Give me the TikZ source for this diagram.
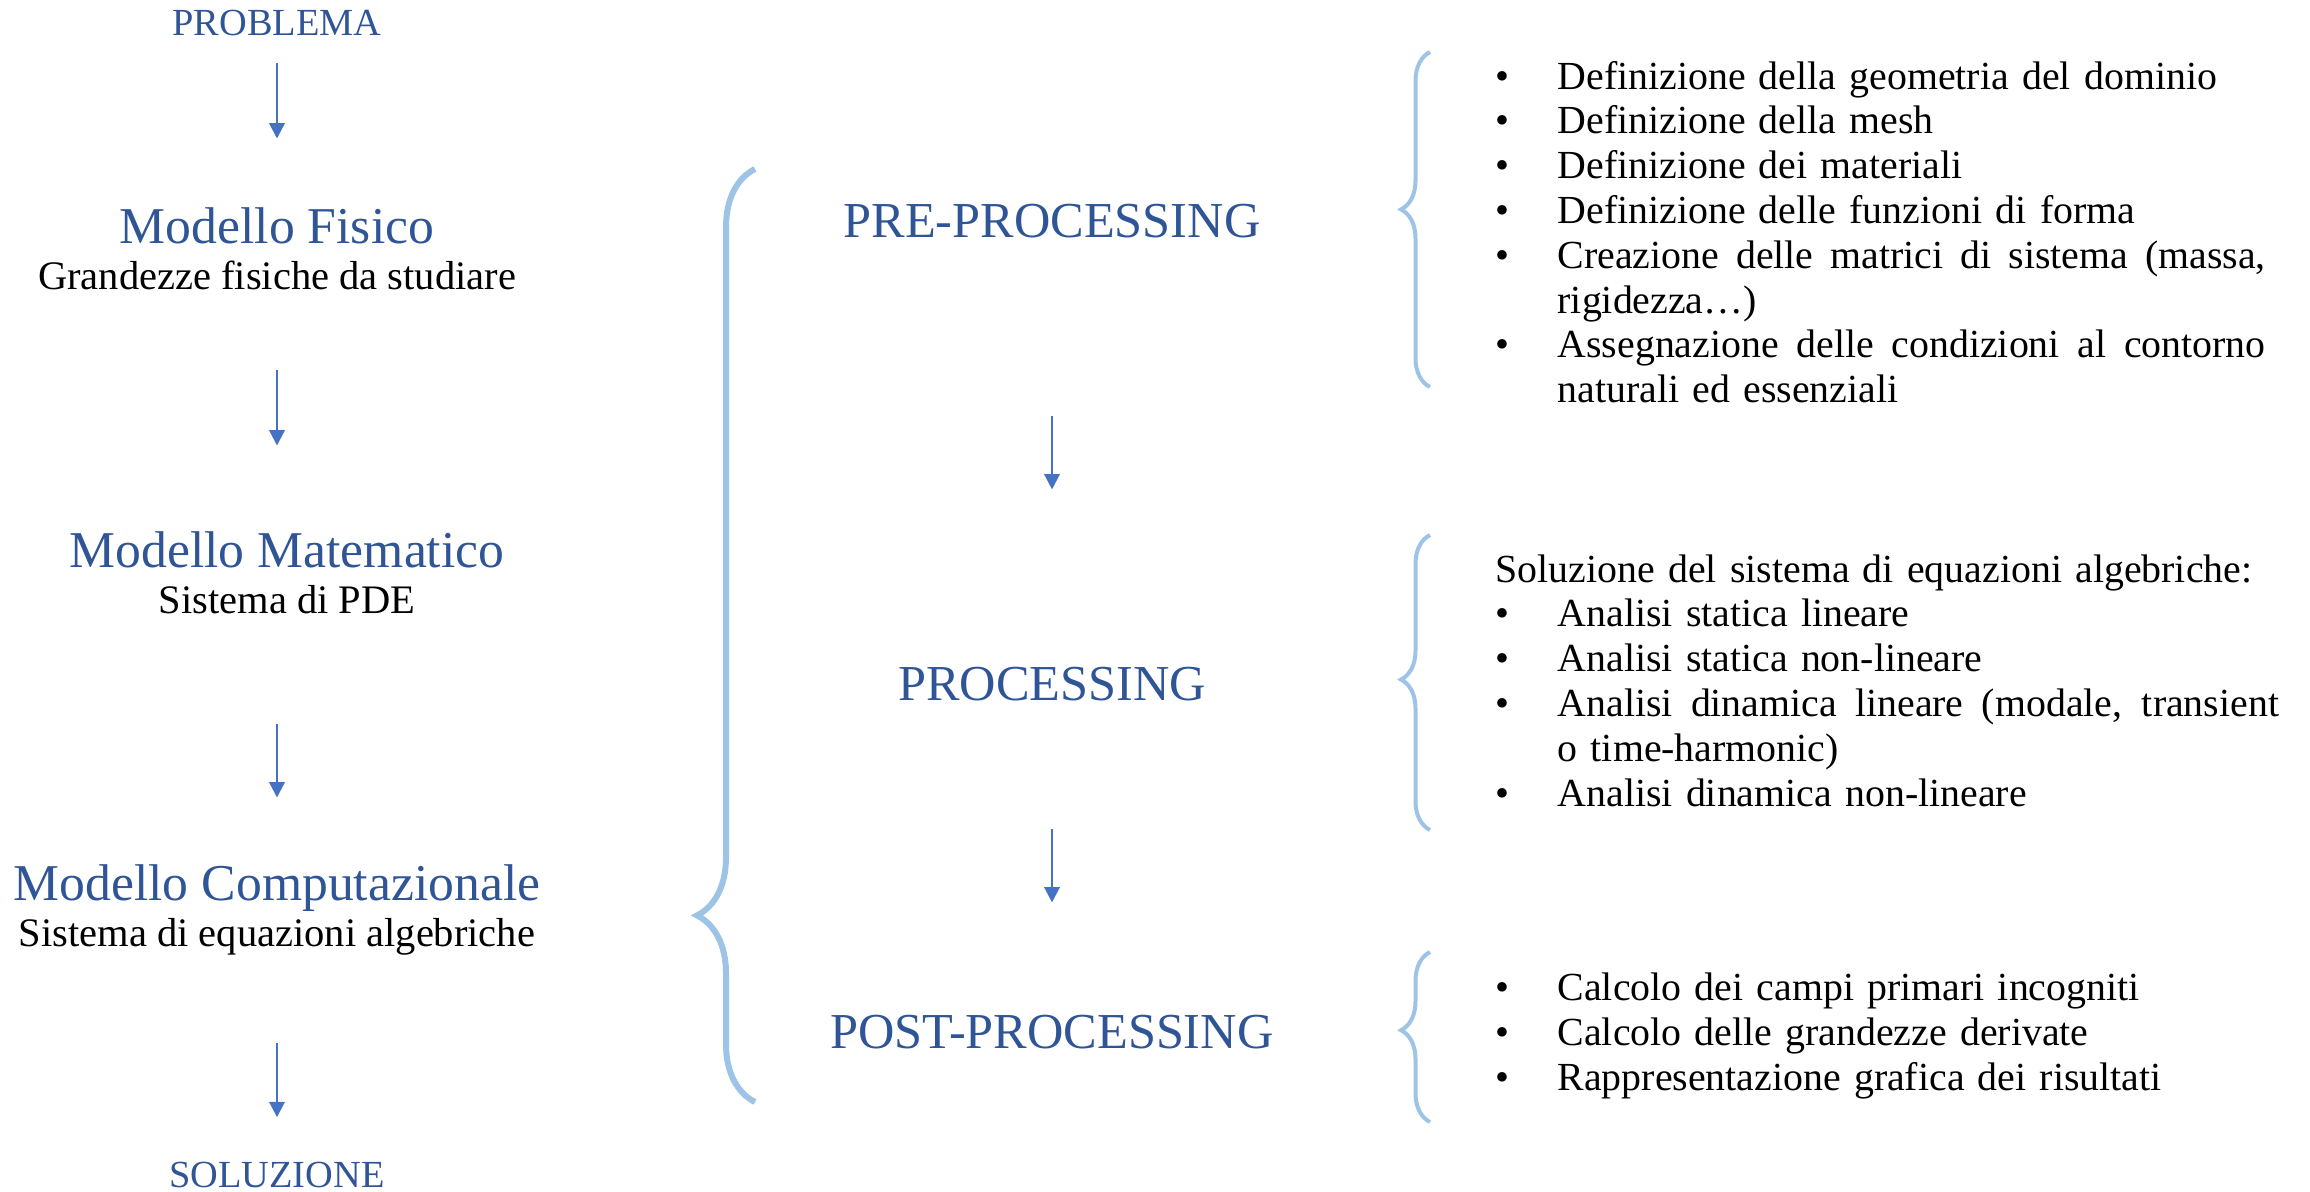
\documentclass[tikz,border=0pt]{standalone}
\usepackage{fontspec}
\setmainfont{Liberation Serif}
\usepackage{tikz}
\usetikzlibrary{arrows.meta, decorations.pathreplacing, positioning}
\definecolor{titleblue}{HTML}{2F5597}
\definecolor{arrowblue}{HTML}{4472C4}
\definecolor{braceblue}{HTML}{9DC3E6}
\tikzstyle{estremo} = [inner sep=0pt, text=titleblue, font=\fontsize{11.5}{13}\selectfont, text height=8.05pt, text depth=2.3pt]
\tikzstyle{modello} = [inner sep=0pt, text=titleblue, font=\fontsize{15.5}{18}\selectfont, text height=10.85pt, text depth=3.1pt]
\tikzstyle{fase} = [inner sep=0pt, text=titleblue, font=\fontsize{15.1}{18}\selectfont, text height=10.57pt, text depth=3.02pt]
\tikzstyle{descr} = [inner sep=0pt, font=\fontsize{12.15}{13.44}\selectfont, text height=8.5pt, text depth=3.04pt]
\tikzstyle{elenco} = [inner sep=0pt, anchor=base west, align=justify, font=\fontsize{11.95}{13.44}\selectfont]
\tikzstyle{arrow} = [draw=arrowblue, line width=0.7pt, -{Triangle[length=4.6pt,width=4.6pt]}]
\tikzstyle{graffa} = [draw=braceblue, line width=1.8pt, decorate, decoration={brace, amplitude=17.4pt, aspect=0.2}]
\tikzstyle{graffina} = [draw=braceblue, line width=1.2pt, decorate, decoration={brace, amplitude=8.7pt}]
\newcommand{\spaziatura}{\spaceskip=.3333em plus .1667em minus .1111em\relax}
\newenvironment{puntielenco}{\spaziatura\begin{list}{\textbullet}{\setlength{\leftmargin}{18.6pt}\setlength{\labelwidth}{18.6pt}\setlength{\labelsep}{0pt}\setlength{\itemsep}{0pt}\setlength{\parsep}{0pt}\setlength{\topsep}{0pt}\setlength{\partopsep}{0pt}\renewcommand*{\makelabel}[1]{##1\hfil}}}{\end{list}}

\begin{document}
\begin{tikzpicture}[x=0.3pt, y=-0.3pt]
	\useasboundingbox (0,0) rectangle (2310,1191);
	% colonna dei modelli
	\node (problema) [estremo, anchor=base] at (277,35) {PROBLEMA};
	\node (fisico) [modello, anchor=base] at (277,243) {Modello Fisico};
	\node (fisicoDescr) [descr, below = 2pt of fisico] {Grandezze fisiche da studiare};
	\node (matematico) [modello, anchor=base] at (287,567) {Modello Matematico};
	\node (matematicoDescr) [descr, below = 2pt of matematico] {Sistema di PDE};
	\node (computazionale) [modello, anchor=base] at (277,900) {Modello Computazionale};
	\node (computazionaleDescr) [descr, below = 2pt of computazionale] {Sistema di equazioni algebriche};
	\node (soluzione) [estremo, anchor=base] at (277,1187) {SOLUZIONE};
	\draw [arrow, shorten <=5.8pt, shorten >=20.3pt] (problema) -- (fisico);
	\draw [arrow, shorten <=20.9pt, shorten >=25.4pt] (fisicoDescr) -- (fisicoDescr |- matematico.north);
	\draw [arrow, shorten <=29.9pt, shorten >=19.7pt] (computazionale.north |- matematicoDescr.south) -- (computazionale);
	\draw [arrow, shorten <=25.7pt, shorten >=12.7pt] (computazionaleDescr) -- (soluzione);
	% graffa grande
	\draw [graffa] (755,1102) -- (755,169);
	% fasi
	\node (pre) [fase, anchor=base] at (1052,237) {PRE-PROCESSING};
	\node (proc) [fase, anchor=base] at (1052,700) {PROCESSING};
	\node (post) [fase, anchor=base] at (1052,1048) {POST-PROCESSING};
	\draw [arrow, shorten <=50.4pt, shorten >=52.4pt] (pre) -- (proc);
	\draw [arrow, shorten <=35.4pt, shorten >=32.9pt] (proc) -- (post);
	% graffe piccole
	\draw [graffina, decoration={aspect=0.53}] (1430,387) -- (1430,52);
	\draw [graffina, decoration={aspect=0.51}] (1430,830) -- (1430,535);
	\draw [graffina, decoration={aspect=0.54}] (1430,1122) -- (1430,952);
	% elenchi
	\node (elencoPre) [elenco, text width=231pt] at (1495,44.2) {%
		\begin{puntielenco}
			\item Definizione della geometria del dominio
			\item Definizione della mesh
			\item Definizione dei materiali
			\item Definizione delle funzioni di forma
			\item Creazione delle matrici di sistema (massa,\linebreak rigidezza…)
			\item Assegnazione delle condizioni al contorno\linebreak naturali ed essenziali
		\end{puntielenco}};
	\node (elencoProc) [elenco, text width=235pt] at (1495,582) {%
		\spaziatura Soluzione del sistema di equazioni algebriche:
		\begin{puntielenco}
			\item Analisi statica lineare
			\item Analisi statica non-lineare
			\item Analisi dinamica lineare (modale, transient\linebreak o time-harmonic)
			\item Analisi dinamica non-lineare
		\end{puntielenco}};
	\node (elencoPost) [elenco, text width=235pt] at (1495,956) {%
		\begin{puntielenco}
			\item Calcolo dei campi primari incogniti
			\item Calcolo delle grandezze derivate
			\item Rappresentazione grafica dei risultati
		\end{puntielenco}};
\end{tikzpicture}
\end{document}
